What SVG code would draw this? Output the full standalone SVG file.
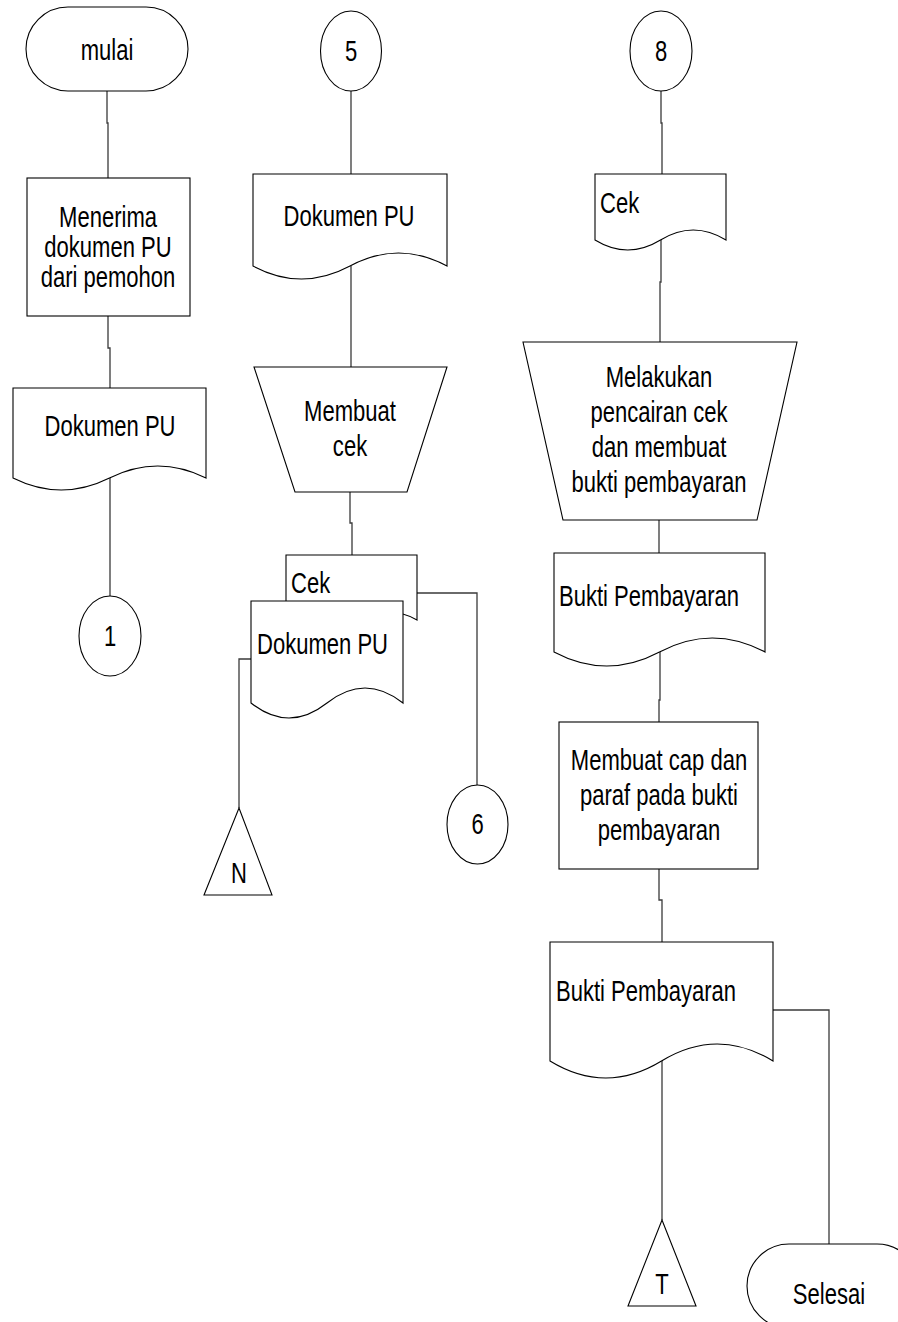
<svg xmlns="http://www.w3.org/2000/svg" width="898" height="1322" viewBox="0 0 898 1322">
  <style>
    .shape { fill: #ffffff; stroke: #000000; stroke-width: 1.1; }
    .conn path { fill: none; stroke: #3a3a3a; stroke-width: 1.3; }
    .t { font-family: "Liberation Sans", Arial, sans-serif; font-size: 29px; fill: #000000; }
    .c { text-anchor: middle; }
    .s { text-anchor: start; }
  </style>
  <rect width="898" height="1322" fill="#ffffff"/>

  <!-- connectors -->
  <g id="connectors" class="conn">
    <path d="M107,91 V123 H108 V178"/>
    <path d="M108,316 V348 H110 V388"/>
    <path d="M110,478 V596"/>
    <path d="M351,91 V174"/>
    <path d="M351,266 V367"/>
    <path d="M350,492 V523 H352 V555"/>
    <path d="M417,593 H477 V785"/>
    <path d="M251,659 H239 V808"/>
    <path d="M661,91 V123 H662 V174"/>
    <path d="M661,240 V282 H660 V342"/>
    <path d="M659,520 V553"/>
    <path d="M660,652 V700 H659 V722"/>
    <path d="M659,869 V900 H662 V942"/>
    <path d="M662,1061 V1220"/>
    <path d="M773,1010 H829 V1244"/>
  </g>

  <!-- column 1 -->
  <g id="start">
    <rect class="shape" x="26" y="7" width="162" height="84" rx="42" ry="42"/>
    <text class="t c" transform="translate(107,60) scale(0.76,1)">mulai</text>
  </g>
  <g id="receive-doc">
    <rect class="shape" x="27" y="178" width="163" height="138"/>
    <text class="t c" transform="translate(108,227) scale(0.76,1)"><tspan x="0" y="0">Menerima</tspan><tspan x="0" y="30">dokumen PU</tspan><tspan x="0" y="60">dari pemohon</tspan></text>
  </g>
  <g id="doc-pu-1">
    <path class="shape" d="M13,388 H206 V478 Q157.75,454 109.5,478 T13,478 Z"/>
    <text class="t c" transform="translate(110,436) scale(0.76,1)">Dokumen PU</text>
  </g>
  <g id="conn-1">
    <ellipse class="shape" cx="110" cy="636" rx="31" ry="40"/>
    <text class="t c" transform="translate(110,646) scale(0.76,1)">1</text>
  </g>

  <!-- column 2 -->
  <g id="conn-5">
    <ellipse class="shape" cx="351" cy="51" rx="30.5" ry="40"/>
    <text class="t c" transform="translate(351,61) scale(0.76,1)">5</text>
  </g>
  <g id="doc-pu-2">
    <path class="shape" d="M253,174 H447 V266 Q398.5,240 350,266 T253,266 Z"/>
    <text class="t c" transform="translate(349,226) scale(0.76,1)">Dokumen PU</text>
  </g>
  <g id="make-cheque">
    <path class="shape" d="M254,367 H447 L407,492 H295 Z"/>
    <text class="t c" transform="translate(350,421) scale(0.76,1)"><tspan x="0" y="0">Membuat</tspan><tspan x="0" y="35">cek</tspan></text>
  </g>
  <g id="doc-cek-back">
    <path class="shape" d="M286,555 H417 V620 Q384.25,602 351.5,620 T286,620 Z"/>
    <text class="t s" transform="translate(291,593) scale(0.76,1)">Cek</text>
  </g>
  <g id="doc-pu-front">
    <path class="shape" d="M251,601 H403 V703 Q365,673 327,703 T251,703 Z"/>
    <text class="t s" transform="translate(257,654) scale(0.76,1)">Dokumen PU</text>
  </g>
  <g id="file-n">
    <path class="shape" d="M239,808 L272,895 H204 Z"/>
    <text class="t c" transform="translate(239,883) scale(0.76,1)">N</text>
  </g>
  <g id="conn-6">
    <ellipse class="shape" cx="477.5" cy="824.5" rx="30.5" ry="39.5"/>
    <text class="t c" transform="translate(477.5,834) scale(0.76,1)">6</text>
  </g>

  <!-- column 3 -->
  <g id="conn-8">
    <ellipse class="shape" cx="661" cy="51" rx="31" ry="40"/>
    <text class="t c" transform="translate(661,61) scale(0.76,1)">8</text>
  </g>
  <g id="doc-cek">
    <path class="shape" d="M595,174 H726 V240 Q693.25,220 660.5,240 T595,240 Z"/>
    <text class="t s" transform="translate(600,213) scale(0.76,1)">Cek</text>
  </g>
  <g id="cash-cheque">
    <path class="shape" d="M523,342 H797 L757,520 H563 Z"/>
    <text class="t c" transform="translate(659,387) scale(0.76,1)"><tspan x="0" y="0">Melakukan</tspan><tspan x="0" y="35">pencairan cek</tspan><tspan x="0" y="70">dan membuat</tspan><tspan x="0" y="105">bukti pembayaran</tspan></text>
  </g>
  <g id="doc-bukti-1">
    <path class="shape" d="M554,553 H765 V652 Q712.25,624 659.5,652 T554,652 Z"/>
    <text class="t s" transform="translate(559,606) scale(0.76,1)">Bukti Pembayaran</text>
  </g>
  <g id="stamp">
    <rect class="shape" x="559" y="722" width="199" height="147"/>
    <text class="t c" transform="translate(659,770) scale(0.76,1)"><tspan x="0" y="0">Membuat cap dan</tspan><tspan x="0" y="35">paraf pada bukti</tspan><tspan x="0" y="70">pembayaran</tspan></text>
  </g>
  <g id="doc-bukti-2">
    <path class="shape" d="M550,942 H773 V1061 Q717.25,1027 661.5,1061 T550,1061 Z"/>
    <text class="t s" transform="translate(556,1001) scale(0.76,1)">Bukti Pembayaran</text>
  </g>
  <g id="file-t">
    <path class="shape" d="M662,1220 L696,1306 H628 Z"/>
    <text class="t c" transform="translate(662,1294) scale(0.76,1)">T</text>
  </g>
  <g id="end">
    <rect class="shape" x="747" y="1244" width="172" height="84" rx="42" ry="42"/>
    <text class="t c" transform="translate(829,1304) scale(0.76,1)">Selesai</text>
  </g>
</svg>
